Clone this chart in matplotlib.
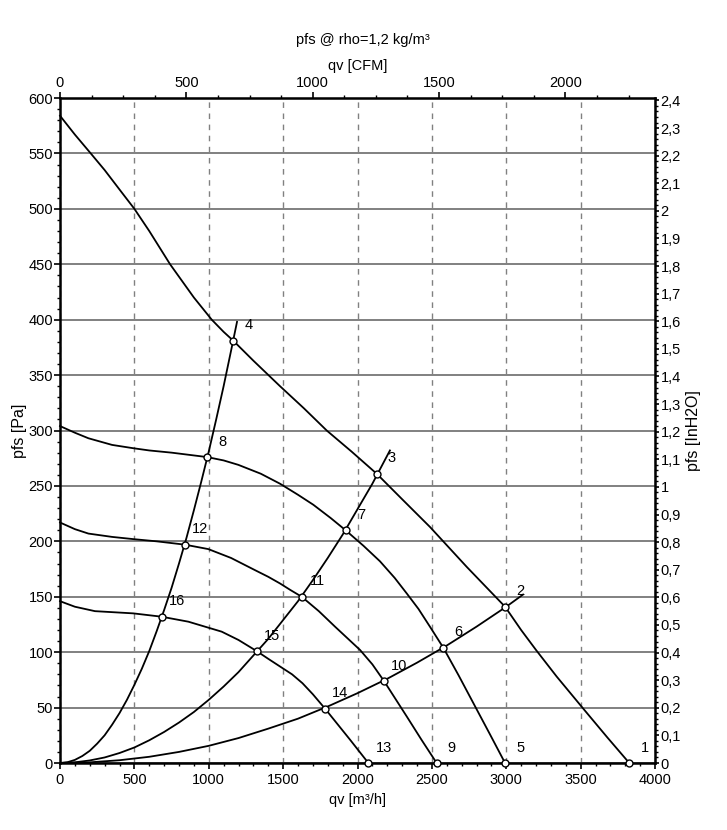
import matplotlib
matplotlib.use("Agg")
import matplotlib.pyplot as plt
from matplotlib.ticker import MultipleLocator, FixedLocator, FuncFormatter

plt.rcParams["font.family"] = ["Liberation Sans", "DejaVu Sans"]

PA_PER_INH2O = 249.089
M3H_PER_CFM = 1.699

# fan curves, qv [m3/h] / pfs [Pa]
fan1_q = [0, 100, 213, 300, 414, 500, 600, 740, 900, 1020, 1100, 1165, 1300, 1479, 1640,
          1793, 1960, 2129, 2300, 2487, 2734, 2992, 3100, 3200, 3339, 3518, 3680, 3827]
fan1_p = [584, 567, 549, 535, 515, 500, 480, 450, 420, 400, 389, 381, 363, 340, 320,
          300, 281, 261, 238, 213, 177, 141, 120, 102, 78, 49, 23, 0]
fan2_q = [0, 100, 191, 350, 493, 600, 751, 990, 1100, 1199, 1350, 1479, 1600, 1703,
          1820, 1920, 2040, 2151, 2250, 2331, 2410, 2487, 2577, 2680, 2779, 2890, 2992]
fan2_p = [304, 298, 293, 287, 284, 282, 280, 276, 273, 269, 261, 252, 242, 233,
          221, 210, 196, 182, 167, 153, 139, 123, 104, 79, 54, 26, 0]
fan3_q = [0, 100, 191, 350, 493, 650, 840, 997, 1150, 1311, 1400, 1479, 1550, 1625,
          1740, 1849, 2017, 2100, 2178, 2331, 2430, 2532]
fan3_p = [217, 211, 207, 204, 202, 200, 197, 193, 185, 174, 168, 162, 156, 150,
          137, 123, 102, 89, 74, 42, 21, 0]
fan4_q = [0, 100, 235, 493, 683, 863, 1087, 1200, 1322, 1400, 1480, 1560, 1630,
          1700, 1782, 1950, 2073]
fan4_p = [146, 141, 137, 135, 132, 127.5, 118.5, 111, 101, 94, 87, 80, 72,
          62, 49, 21, 0]

# system curves
sysA_q = [0, 50, 100, 150, 200, 250, 300, 350, 400, 450, 500, 550, 600, 650, 700,
          750, 800, 850, 900, 950, 1000, 1050, 1100, 1150, 1190]
sysA_p = [0, 0.7, 2.8, 6.3, 11, 17.5, 25, 34.5, 45, 57, 70.5, 85, 101, 119, 138,
          158, 180, 203, 228, 254, 281, 310, 340, 372, 398]
sysB_q = [0, 100, 200, 300, 400, 500, 600, 700, 800, 900, 1000, 1100, 1200, 1300,
          1400, 1500, 1600, 1700, 1800, 1900, 2000, 2100, 2218]
sysB_p = [0, 0.6, 2.3, 5, 9, 14, 20.5, 28, 36.5, 46, 57, 69, 82, 97,
          112, 129, 146, 165, 185, 206, 229, 252, 282]
sysC_q = [0, 200, 400, 600, 800, 1000, 1200, 1400, 1600, 1800, 2000, 2200, 2400,
          2600, 2800, 3000, 3113]
sysC_p = [0, 0.6, 2.5, 5.6, 10, 15.5, 22.5, 31, 40, 51, 63, 76, 90.5,
          106, 123, 141, 152]

# operating points
pt_labels = ["1", "2", "3", "4", "5", "6", "7", "8",
             "9", "10", "11", "12", "13", "14", "15", "16"]
pt_q = [3827, 2992, 2129, 1165, 2992, 2577, 1920, 990,
        2532, 2178, 1625, 840, 2073, 1782, 1322, 683]
pt_p = [0, 141, 261, 381, 0, 104, 210, 276,
        0, 74, 150, 197, 0, 49, 101, 132]

fig = plt.figure(figsize=(7.27, 8.30), dpi=100)
ax = fig.add_axes([60 / 727, 67 / 830, 595 / 727, 665 / 830])
ax.set_xlim(0, 4000)
ax.set_ylim(0, 600)

ax.xaxis.set_major_locator(MultipleLocator(500))
ax.xaxis.set_minor_locator(MultipleLocator(100))
ax.yaxis.set_major_locator(MultipleLocator(50))
ax.yaxis.set_minor_locator(MultipleLocator(10))
ax.grid(axis="y", color="#808080", linewidth=1.4)
ax.grid(axis="x", color="#808080", linewidth=1.0, linestyle=(0, (4, 4)))
ax.set_axisbelow(True)

for q, p in [(fan1_q, fan1_p), (fan2_q, fan2_p), (fan3_q, fan3_p), (fan4_q, fan4_p),
             (sysA_q, sysA_p), (sysB_q, sysB_p), (sysC_q, sysC_p)]:
    ax.plot(q, p, color="black", linewidth=1.3, zorder=3, clip_on=False)

ax.plot(pt_q, pt_p, "o", mfc="white", mec="black", ms=5, mew=1, zorder=5, clip_on=False)
for lbl, q, p in zip(pt_labels, pt_q, pt_p):
    ax.annotate(lbl, (q, p), xytext=(11, 11), textcoords="offset points",
                ha="center", va="center", fontsize=10.5)

for s in ax.spines.values():
    s.set_linewidth(1.8)
ax.tick_params(which="major", length=4, width=1.2, labelsize=10.5)
ax.tick_params(axis="y", which="major", pad=1)
ax.tick_params(which="minor", length=2.5, width=1)

ax.set_xlabel("qv [m³/h]", fontsize=10.5, labelpad=4)
ax.set_ylabel("pfs [Pa]", fontsize=11.5, labelpad=1)

top = ax.secondary_xaxis("top", functions=(lambda q: q / M3H_PER_CFM, lambda c: c * M3H_PER_CFM))
top.xaxis.set_major_locator(FixedLocator([0, 500, 1000, 1500, 2000]))
top.xaxis.set_minor_locator(MultipleLocator(125))
top.tick_params(which="major", length=4, width=1.2, labelsize=10.5, pad=2)
top.tick_params(which="minor", length=2.5, width=1)
top.set_xlabel("qv [CFM]", fontsize=10.5, labelpad=4)

right = ax.secondary_yaxis("right", functions=(lambda p: p / PA_PER_INH2O, lambda i: i * PA_PER_INH2O))
right.yaxis.set_major_locator(FixedLocator([i / 10 for i in range(25)]))
right.yaxis.set_minor_locator(MultipleLocator(0.02))
right.yaxis.set_major_formatter(FuncFormatter(lambda v, pos: f"{v:.1f}".rstrip("0").rstrip(".").replace(".", ",")))
right.tick_params(which="major", length=3, width=1.2, labelsize=10.5, pad=1)
right.tick_params(which="minor", length=2, width=1)
right.set_ylabel("pfs [InH2O]", fontsize=11.5, labelpad=4)

fig.text(363 / 727, 1 - 40 / 830, "pfs @ rho=1,2 kg/m³", ha="center", va="center", fontsize=10.5)

fig.savefig("out.png", dpi=100)
